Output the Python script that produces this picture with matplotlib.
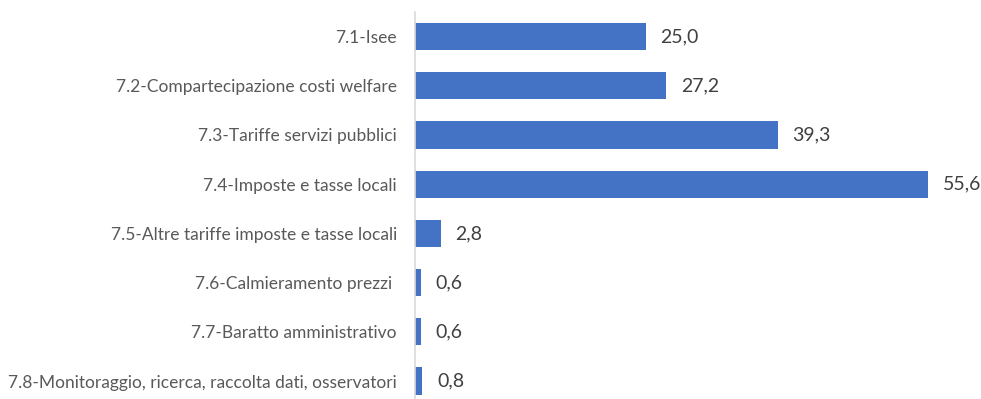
import matplotlib
matplotlib.use("Agg")
import matplotlib.pyplot as plt

# voci e percentuali
voci = [
    "7.1-Isee",
    "7.2-Compartecipazione costi welfare",
    "7.3-Tariffe servizi pubblici",
    "7.4-Imposte e tasse locali",
    "7.5-Altre tariffe imposte e tasse locali",
    "7.6-Calmieramento prezzi ",
    "7.7-Baratto amministrativo",
    "7.8-Monitoraggio, ricerca, raccolta dati, osservatori",
]
valori = [25.0, 27.2, 39.3, 55.6, 2.8, 0.6, 0.6, 0.8]

plt.rcParams["font.family"] = ["Lato", "DejaVu Sans"]

fig = plt.figure(figsize=(9.81, 3.99), dpi=100)
ax = fig.add_axes([415 / 981, -6.6 / 399, 554 / 981, 393.6 / 399])

pos = list(range(len(voci)))
ax.barh(pos, valori, height=0.555, color="#4472C4")

for y, v in zip(pos, valori):
    testo = f"{v:.1f}".replace(".", ",")
    ax.annotate(testo, xy=(v, y), xytext=(10.5, 0), textcoords="offset points",
                ha="left", va="center", fontsize=14, color="#404040")

ax.set_xlim(0, 60)
ax.set_ylim(7.5, -0.5)
ax.set_yticks(pos)
ax.set_yticklabels(voci, fontsize=12.5, color="#595959")
ax.tick_params(axis="y", length=0, pad=13)
ax.set_xticks([])

for s in ["top", "right", "bottom"]:
    ax.spines[s].set_visible(False)
ax.spines["left"].set_color("#D9D9D9")
ax.spines["left"].set_linewidth(1.2)

fig.savefig("out.png", dpi=100)
